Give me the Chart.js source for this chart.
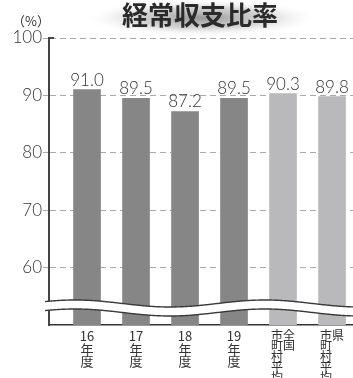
<!DOCTYPE html>
<html>
<head>
<meta charset="utf-8">
<script src="https://cdn.jsdelivr.net/npm/chart.js@4.4.0/dist/chart.umd.min.js"></script>
<style>
  html, body { margin: 0; padding: 0; background: #fff; }
  #wrap { width: 353px; height: 378px; }
</style>
</head>
<body>
<div id="wrap"><canvas id="myChart"></canvas></div>
<script>
// data
var categories = ['16年度', '17年度', '18年度', '19年度', '全国市町村平均', '県市町村平均'];
var values = [91.0, 89.5, 87.2, 89.5, 90.3, 89.8];
var tickLabels = [
    ['16', '年', '度'],
    ['17', '年', '度'],
    ['18', '年', '度'],
    ['19', '年', '度'],
    ['市全', '町国', '村　', '平　', '均　'],
    ['市県', '町　', '村　', '平　', '均　']
];
var yTicks = [50, 60, 70, 80, 90, 100];
var barColors = ['#868686', '#868686', '#868686', '#868686', '#b9b9bb', '#b9b9bb'];

var points = values.map(function(v, i) { return { x: i, y: v }; });

// white background + title glow + title + unit
var decoPlugin = {
    id: 'deco',
    beforeDraw: function(chart) {
        var ctx = chart.ctx;
        ctx.save();
        ctx.fillStyle = '#fff';
        ctx.fillRect(0, 0, chart.width, chart.height);
        // glow behind title
        ctx.translate(202, 18);
        ctx.scale(1, 0.16);
        var g = ctx.createRadialGradient(0, 0, 0, 0, 0, 118);
        g.addColorStop(0, 'rgba(140,140,140,0.9)');
        g.addColorStop(0.55, 'rgba(185,185,185,0.6)');
        g.addColorStop(1, 'rgba(255,255,255,0)');
        ctx.fillStyle = g;
        ctx.beginPath();
        ctx.arc(0, 0, 118, 0, Math.PI * 2);
        ctx.fill();
        ctx.restore();

        ctx.save();
        ctx.fillStyle = '#2a2a2a';
        ctx.textAlign = 'center';
        ctx.textBaseline = 'middle';
        ctx.font = 'bold 26px "Noto Sans CJK JP"';
        ctx.fillText('経常収支比率', 200, 15);
        ctx.fillStyle = '#333';
        ctx.font = '13px "Noto Sans CJK JP"';
        ctx.fillText('（%）', 31, 21);
        ctx.restore();
    },
    afterDatasetsDraw: function(chart) {
        var ctx = chart.ctx;
        var area = chart.chartArea;
        // value labels
        ctx.save();
        ctx.fillStyle = '#333';
        ctx.font = '300 17px "Lato"';
        ctx.textAlign = 'center';
        ctx.textBaseline = 'bottom';
        chart.getDatasetMeta(0).data.forEach(function(bar, i) {
            ctx.fillText(values[i].toFixed(1), bar.x, bar.y - 1);
        });
        ctx.restore();

        // wavy break
        var top = function(x) { return 303.5 - 3.5 * Math.cos(2 * Math.PI * (x - 75) / 190); };
        var x0 = area.left - 4, x1 = chart.width;
        ctx.save();
        ctx.beginPath();
        for (var x = x0; x <= x1; x++) ctx.lineTo(x, top(x));
        for (var x = x1; x >= x0; x--) ctx.lineTo(x, top(x) + 9);
        ctx.closePath();
        ctx.fillStyle = '#fff';
        ctx.fill();
        ctx.strokeStyle = '#3a3a3a';
        ctx.lineWidth = 1.4;
        ctx.beginPath();
        for (var x = x0; x <= x1; x++) ctx.lineTo(x, top(x));
        ctx.stroke();
        ctx.beginPath();
        for (var x = x0; x <= x1; x++) ctx.lineTo(x, top(x) + 9);
        ctx.stroke();
        // small corner at the top of the axis
        ctx.beginPath();
        ctx.moveTo(area.left - 1, area.top);
        ctx.lineTo(area.left + 5, area.top);
        ctx.lineWidth = 2;
        ctx.strokeStyle = '#444';
        ctx.stroke();
        ctx.restore();
    }
};

var ctx = document.getElementById('myChart').getContext('2d');
var myChart = new Chart(ctx, {
    type: 'bar',
    data: {
        labels: categories,
        datasets: [{
            label: '経常収支比率',
            data: points,
            backgroundColor: barColors,
            borderWidth: 0,
            barThickness: 27
        }]
    },
    options: {
        responsive: true,
        maintainAspectRatio: false,
        animation: false,
        layout: { padding: { top: 38, right: 0, left: 0, bottom: 0 } },
        plugins: {
            legend: { display: false },
            title: { display: false },
            tooltip: { enabled: false }
        },
        scales: {
            x: {
                type: 'linear',
                offset: false,
                min: -0.776,
                max: 5.428,
                grid: { display: false, drawTicks: false, offset: false },
                border: { display: true, color: '#333', width: 1.5 },
                ticks: {
                    stepSize: 1,
                    includeBounds: false,
                    autoSkip: false,
                    maxRotation: 0,
                    padding: 5,
                    color: '#333',
                    font: function(c) {
                        var v = c.tick ? c.tick.value : 0;
                        if (v >= 4) return { family: '"Noto Sans CJK JP"', size: 12, lineHeight: '10.6px' };
                        return { family: '"Noto Sans CJK JP"', size: 13, lineHeight: '12.6px' };
                    },
                    callback: function(v) {
                        return Number.isInteger(v) && tickLabels[v] ? tickLabels[v] : '';
                    }
                },
                afterFit: function(scale) { scale.height = 53; }
            },
            y: {
                min: 50,
                max: 100,
                afterBuildTicks: function(scale) {
                    scale.ticks = yTicks.map(function(v) { return { value: v }; });
                },
                grid: {
                    color: function(c) { return c.tick && c.tick.value === 50 ? 'rgba(0,0,0,0)' : '#aaa'; },
                    lineWidth: 1,
                    tickLength: 6
                },
                border: { display: true, color: '#444', width: 2, dash: [6, 4] },
                ticks: {
                    padding: 1,
                    color: '#333',
                    font: { family: '"Lato"', size: 17, weight: '300' },
                    callback: function(v) { return v === 50 ? '' : v; }
                },
                afterFit: function(scale) { scale.width = 49; }
            }
        }
    },
    plugins: [decoPlugin]
});
</script>
</body>
</html>
